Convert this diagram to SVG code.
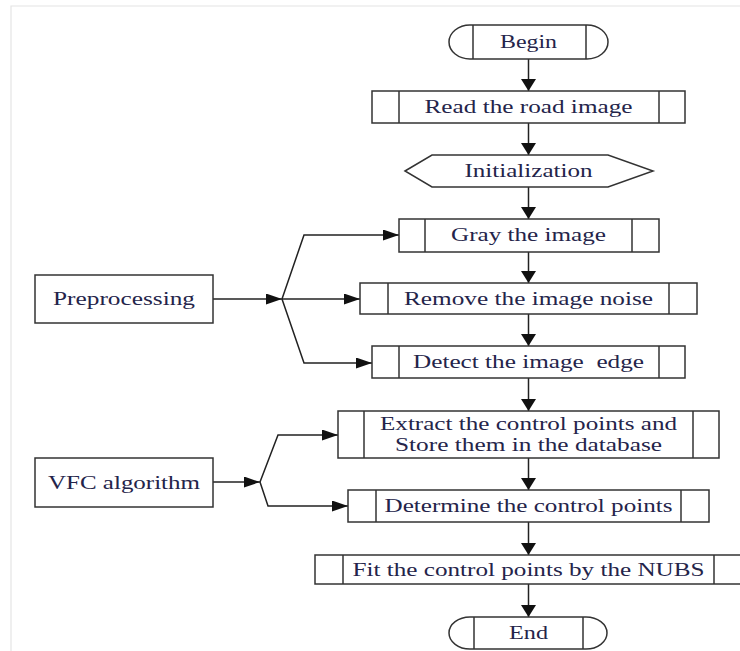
<svg xmlns="http://www.w3.org/2000/svg" width="740" height="651" viewBox="0 0 740 651">
  <style>
    .frame { fill: none; stroke: #e4e4e4; stroke-width: 1.2; }
    .box { fill: #ffffff; stroke: #333333; stroke-width: 1.5; }
    .bar { fill: none; stroke: #333333; stroke-width: 1.5; }
    .wire { fill: none; stroke: #222222; stroke-width: 1.5; }
    .lbl { font-family: "Liberation Serif", "Times New Roman", serif; font-size: 19px; fill: #24244a; text-anchor: middle; }
  </style>
  <defs>
    <marker id="ahDown" markerUnits="userSpaceOnUse" markerWidth="12" markerHeight="15" refX="12" refY="7.5" orient="auto">
      <path d="M0,0 L12,7.5 L0,15 Z" fill="#111111"/>
    </marker>
    <marker id="ahRight" markerUnits="userSpaceOnUse" markerWidth="16" markerHeight="11" refX="16" refY="5.5" orient="auto">
      <path d="M0,0 L16,5.5 L0,11 Z" fill="#111111"/>
    </marker>
  </defs>

  <rect width="740" height="651" fill="#ffffff"/>
  <path class="frame" d="M11,651 V6 H740"/>

  <!-- main flow connectors -->
  <g id="connectors">
    <line class="wire" x1="528.5" y1="59" x2="528.5" y2="91" marker-end="url(#ahDown)"/>
    <line class="wire" x1="528.5" y1="123" x2="528.5" y2="155" marker-end="url(#ahDown)"/>
    <line class="wire" x1="528.5" y1="187" x2="528.5" y2="219" marker-end="url(#ahDown)"/>
    <line class="wire" x1="528.5" y1="252" x2="528.5" y2="283" marker-end="url(#ahDown)"/>
    <line class="wire" x1="528.5" y1="314" x2="528.5" y2="346" marker-end="url(#ahDown)"/>
    <line class="wire" x1="528.5" y1="378" x2="528.5" y2="411" marker-end="url(#ahDown)"/>
    <line class="wire" x1="528.5" y1="458" x2="528.5" y2="490" marker-end="url(#ahDown)"/>
    <line class="wire" x1="528.5" y1="522" x2="528.5" y2="555" marker-end="url(#ahDown)"/>
    <line class="wire" x1="528.5" y1="584" x2="528.5" y2="617" marker-end="url(#ahDown)"/>

    <!-- preprocessing fan-out -->
    <line class="wire" x1="213" y1="299" x2="282" y2="299" marker-end="url(#ahRight)"/>
    <path class="wire" d="M282,299 L304,235 L399,235" marker-end="url(#ahRight)"/>
    <path class="wire" d="M282,299 L360,299" marker-end="url(#ahRight)"/>
    <path class="wire" d="M282,299 L304,363 L372,363" marker-end="url(#ahRight)"/>

    <!-- VFC fan-out -->
    <line class="wire" x1="213" y1="482" x2="260" y2="482" marker-end="url(#ahRight)"/>
    <path class="wire" d="M260,482 L278,435 L338,435" marker-end="url(#ahRight)"/>
    <path class="wire" d="M260,482 L268,506 L348,506" marker-end="url(#ahRight)"/>
  </g>

  <g id="begin">
    <rect class="box" x="449" y="25" width="159" height="34" rx="21" ry="17"/>
    <line class="bar" x1="473" y1="25" x2="473" y2="59"/>
    <line class="bar" x1="586" y1="25" x2="586" y2="59"/>
    <text class="lbl" x="528.5" y="48" textLength="57" lengthAdjust="spacingAndGlyphs">Begin</text>
  </g>

  <g id="read">
    <rect class="box" x="372" y="91" width="313" height="32"/>
    <line class="bar" x1="399" y1="91" x2="399" y2="123"/>
    <line class="bar" x1="659" y1="91" x2="659" y2="123"/>
    <text class="lbl" x="528.5" y="113" textLength="208" lengthAdjust="spacingAndGlyphs">Read the road image</text>
  </g>

  <g id="init">
    <polygon class="box" points="405,171 432,155 608,155 653,171 608,187 432,187"/>
    <text class="lbl" x="528.5" y="177" textLength="128" lengthAdjust="spacingAndGlyphs">Initialization</text>
  </g>

  <g id="gray">
    <rect class="box" x="399" y="219" width="260" height="33"/>
    <line class="bar" x1="425" y1="219" x2="425" y2="252"/>
    <line class="bar" x1="632" y1="219" x2="632" y2="252"/>
    <text class="lbl" x="528.5" y="241" textLength="155" lengthAdjust="spacingAndGlyphs">Gray the image</text>
  </g>

  <g id="denoise">
    <rect class="box" x="360" y="283" width="337" height="31"/>
    <line class="bar" x1="388" y1="283" x2="388" y2="314"/>
    <line class="bar" x1="669" y1="283" x2="669" y2="314"/>
    <text class="lbl" x="528.5" y="305" textLength="249" lengthAdjust="spacingAndGlyphs">Remove the image noise</text>
  </g>

  <g id="edge">
    <rect class="box" x="372" y="346" width="313" height="32"/>
    <line class="bar" x1="399" y1="346" x2="399" y2="378"/>
    <line class="bar" x1="659" y1="346" x2="659" y2="378"/>
    <text class="lbl" x="528.5" y="368" textLength="231" lengthAdjust="spacingAndGlyphs" xml:space="preserve">Detect the image  edge</text>
  </g>

  <g id="extract">
    <rect class="box" x="338" y="411" width="381" height="47"/>
    <line class="bar" x1="364" y1="411" x2="364" y2="458"/>
    <line class="bar" x1="693" y1="411" x2="693" y2="458"/>
    <text class="lbl" x="528.5" y="430" textLength="297" lengthAdjust="spacingAndGlyphs">Extract the control points and</text>
    <text class="lbl" x="528.5" y="451" textLength="267" lengthAdjust="spacingAndGlyphs">Store them in the database</text>
  </g>

  <g id="determine">
    <rect class="box" x="348" y="490" width="361" height="32"/>
    <line class="bar" x1="376" y1="490" x2="376" y2="522"/>
    <line class="bar" x1="681" y1="490" x2="681" y2="522"/>
    <text class="lbl" x="528.5" y="512" textLength="288" lengthAdjust="spacingAndGlyphs">Determine the control points</text>
  </g>

  <g id="fit">
    <rect class="box" x="315" y="555" width="427" height="29"/>
    <line class="bar" x1="343" y1="555" x2="343" y2="584"/>
    <line class="bar" x1="714" y1="555" x2="714" y2="584"/>
    <text class="lbl" x="528.5" y="576" textLength="352" lengthAdjust="spacingAndGlyphs">Fit the control points by the NUBS</text>
  </g>

  <g id="end">
    <rect class="box" x="449" y="617" width="158" height="32" rx="21" ry="16"/>
    <line class="bar" x1="474" y1="617" x2="474" y2="649"/>
    <line class="bar" x1="583" y1="617" x2="583" y2="649"/>
    <text class="lbl" x="528.5" y="639" textLength="39" lengthAdjust="spacingAndGlyphs">End</text>
  </g>

  <g id="preprocessing">
    <rect class="box" x="35" y="275" width="178" height="48"/>
    <text class="lbl" x="124" y="305" textLength="142" lengthAdjust="spacingAndGlyphs">Preprocessing</text>
  </g>

  <g id="vfc">
    <rect class="box" x="35" y="458" width="178" height="49"/>
    <text class="lbl" x="124" y="489" textLength="152" lengthAdjust="spacingAndGlyphs">VFC algorithm</text>
  </g>
</svg>
